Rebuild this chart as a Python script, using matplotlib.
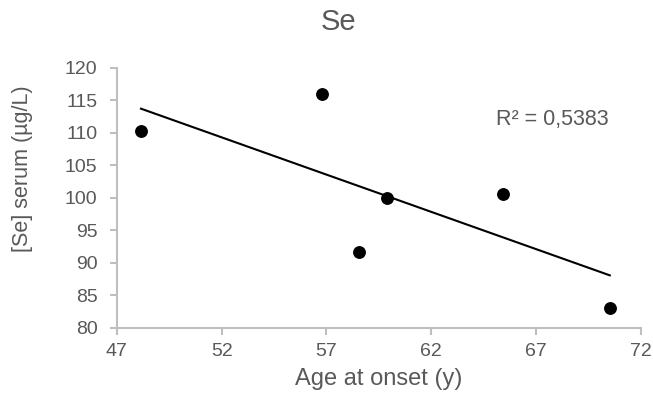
import numpy as np
import matplotlib
matplotlib.use("Agg")
import matplotlib.pyplot as plt

plt.rcParams['font.family'] = ['Liberation Sans', 'DejaVu Sans']

# dados
age_onset = [48.15, 56.8, 58.54, 59.9, 65.45, 70.53]
se_serum = [110.3, 115.9, 91.7, 99.95, 100.6, 83.0]
x_ticks = [47, 52, 57, 62, 67, 72]
y_ticks = [80, 85, 90, 95, 100, 105, 110, 115, 120]

GRAY_TXT = "#595959"
GRAY_AX = "#BFBFBF"

fig = plt.figure(figsize=(6.53, 3.99), dpi=100)
ax = fig.add_axes([0.179, 0.179, 0.802, 0.651])

ax.scatter(age_onset, se_serum, s=68, color="black", zorder=3)

# linha de tendencia linear
coef = np.polyfit(age_onset, se_serum, 1)
xl = np.array([min(age_onset), max(age_onset)])
ax.plot(xl, np.polyval(coef, xl), color="black", linewidth=1.5, zorder=2)

ax.set_xlim(47, 72)
ax.set_ylim(80, 120)
ax.set_xticks(x_ticks)
ax.set_yticks(y_ticks)

for s in ["top", "right"]:
    ax.spines[s].set_visible(False)
for s in ["left", "bottom"]:
    ax.spines[s].set_color(GRAY_AX)
    ax.spines[s].set_linewidth(1.5)

ax.tick_params(axis="both", colors=GRAY_AX, labelcolor=GRAY_TXT,
               labelsize=14, length=5, width=1.5, direction="out")
ax.tick_params(axis="x", pad=6)
ax.tick_params(axis="y", pad=9)

ax.set_xlabel("Age at onset (y)", fontsize=17, color=GRAY_TXT, labelpad=6)
ax.set_ylabel("[Se] serum (µg/L)", fontsize=15.5, color=GRAY_TXT)
ax.yaxis.set_label_coords(-0.161, 0.61)

fig.text(338 / 653, 1 - 22 / 399, "Se", ha="center", va="center",
         fontsize=21, color=GRAY_TXT)

ax.text(67.8, 111.2, "R² = 0,5383", fontsize=15.5, color=GRAY_TXT,
        ha="center", va="baseline")

fig.savefig("out.png", dpi=100)
